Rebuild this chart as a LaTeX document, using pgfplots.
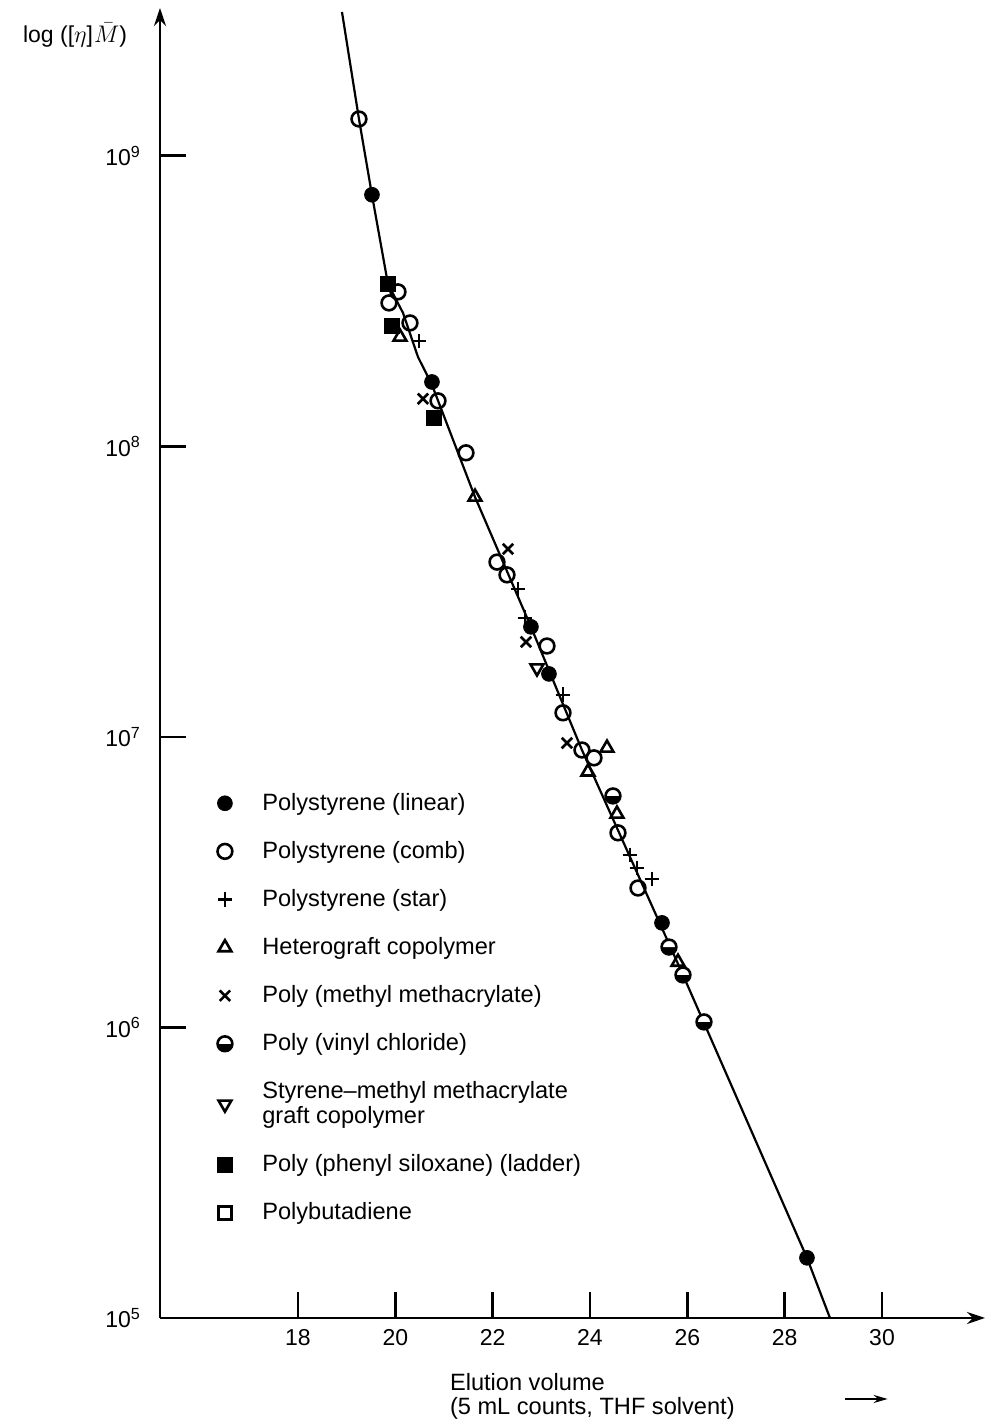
\documentclass[border=0pt]{standalone}
\usepackage{pgfplots}
\pgfplotsset{compat=1.18}
\usepackage{fontspec}
\setmainfont{Liberation Sans}
\usetikzlibrary{arrows.meta}

\begin{document}
\begin{tikzpicture}
\path[use as bounding box] (-80pt,-51pt) rectangle (418pt,659pt);
\begin{axis}[
  at={(0pt,0pt)}, anchor=south west,
  scale only axis, width=412.5pt, height=655pt,
  xmin=15.165, xmax=32.116,
  ymode=log, ymin=1e5, ymax=3.23e9,
  axis x line=bottom, axis y line=left,
  axis line style={line width=1.4pt, -{Stealth[length=9pt,width=6pt]}},
  xtick={18,20,...,30},
  ytick={1e5,1e6,1e7,1e8,1e9},
  yticklabels={10\textsuperscript{5},10\textsuperscript{6},10\textsuperscript{7},10\textsuperscript{8},10\textsuperscript{9}},
  yminorticks=false, xminorticks=false,
  tick align=inside, major tick length=13pt,
  tick style={line width=1.4pt, black},
  /pgf/number format/assume math mode=true,
  ticklabel style={font=\fontsize{11.5}{13}\selectfont},
  yticklabel style={xshift=-6pt},
  xticklabel style={yshift=-2pt},
  clip=false,
  legend cell align=left,
  legend style={draw=none, fill=none, at={(axis description cs:0.062,0.407)},
    anchor=north west, row sep=10pt, column sep=13pt,
    font=\fontsize{11.8}{12.4}\selectfont, nodes={align=left}},
  every axis plot/.append style={mark size=3.7pt},
]
% calibration curve
\addplot[black, line width=1.1pt, forget plot] coordinates {
  (18.904,3.13e9) (19.253,1.340e9) (19.520,7.345e8) (19.849,3.622e8)
  (20.157,2.884e8) (20.466,2.032e8) (20.753,1.629e8) (21.637,6.699e7)
  (22.787,2.393e7) (23.835,9.016e6) (25.910,1.517e6) (28.458,1.611e5)
  (28.931,1.0e5)
};
% Polystyrene (linear)
\addplot[only marks, mark=*, mark options={black, fill=black}] coordinates {
  (19.520,7.35e8) (20.753,1.667e8) (22.787,2.393e7) (23.157,1.648e7)
  (25.479,2.291e6) (28.458,1.611e5)
};
\addlegendentry{Polystyrene (linear)}
% Polystyrene (comb)
\addplot[only marks, mark=o, mark options={black, fill=white, line width=1.3pt}] coordinates {
  (19.253,1.340e9) (20.055,3.404e8) (19.870,3.119e8) (20.301,2.661e8)
  (20.877,1.435e8) (21.452,9.506e7) (22.089,3.999e7) (22.294,3.614e7)
  (23.116,2.056e7) (23.445,1.211e7) (23.835,9.016e6) (24.082,8.472e6)
  (24.575,4.677e6) (24.986,3.020e6)
};
\addlegendentry{Polystyrene (comb)}
% Polystyrene (star)
\addplot[only marks, mark=+, mark options={black, line width=1.3pt}] coordinates {
  (20.486,2.307e8) (22.520,3.228e7) (22.664,2.570e7) (23.445,1.396e7)
  (24.821,3.926e6) (24.965,3.540e6) (25.273,3.243e6)
};
\addlegendentry{Polystyrene (star)}
% Heterograft copolymer
\addplot[only marks, mark=triangle, mark options={black, fill=white, line width=1.3pt}] coordinates {
  (20.096,2.382e8) (21.637,6.699e7) (24.349,9.162e6) (23.958,7.586e6)
  (24.554,5.433e6) (25.808,1.679e6)
};
\addlegendentry{Heterograft copolymer}
% Poly(methyl methacrylate)
\addplot[only marks, mark=x, mark options={black, line width=1.3pt}] coordinates {
  (20.568,1.459e8) (22.315,4.436e7) (22.685,2.123e7) (23.527,9.528e6)
};
\addlegendentry{Poly (methyl methacrylate)}
% Poly(vinyl chloride)
\addplot[only marks, mark=halfcircle*, mark options={black, fill=black, rotate=180, line width=1.3pt}] coordinates {
  (24.472,6.266e6) (25.623,1.892e6) (25.910,1.517e6) (26.342,1.045e6)
};
\addlegendentry{Poly (vinyl chloride)}
% Styrene-MMA graft copolymer
\addplot[only marks, mark=triangle, mark options={black, fill=white, rotate=180, line width=1.3pt}] coordinates {
  (22.911,1.726e7)
};
\addlegendentry{Styrene--methyl methacrylate\\graft copolymer}
% Poly(phenyl siloxane) ladder
\addplot[only marks, mark=square*, mark options={black, fill=black}] coordinates {
  (19.849,3.622e8) (19.931,2.600e8) (20.794,1.253e8)
};
\addlegendentry{Poly (phenyl siloxane) (ladder)}
% Polybutadiene
\addlegendimage{only marks, mark=square, mark size=3.3pt, mark options={black, line width=1.3pt}}
\addlegendentry{Polybutadiene}

\node[anchor=east, font=\fontsize{11.5}{13}\selectfont] at ([xshift=-13pt]axis description cs:0,0.979) {log ([$\eta$]\kern0.5pt$\bar{M}$)};
\node[anchor=north west, align=left, font=\fontsize{11.8}{12.4}\selectfont] at ([yshift=-24pt]axis description cs:0.343,0) {Elution volume\\(5 mL counts, THF solvent)};
\draw[line width=1pt, -{Stealth[length=7pt,width=4pt]}] ([yshift=-40.5pt]axis description cs:0.830,0) -- ([yshift=-40.5pt]axis description cs:0.882,0);
\end{axis}
\end{tikzpicture}
\end{document}
